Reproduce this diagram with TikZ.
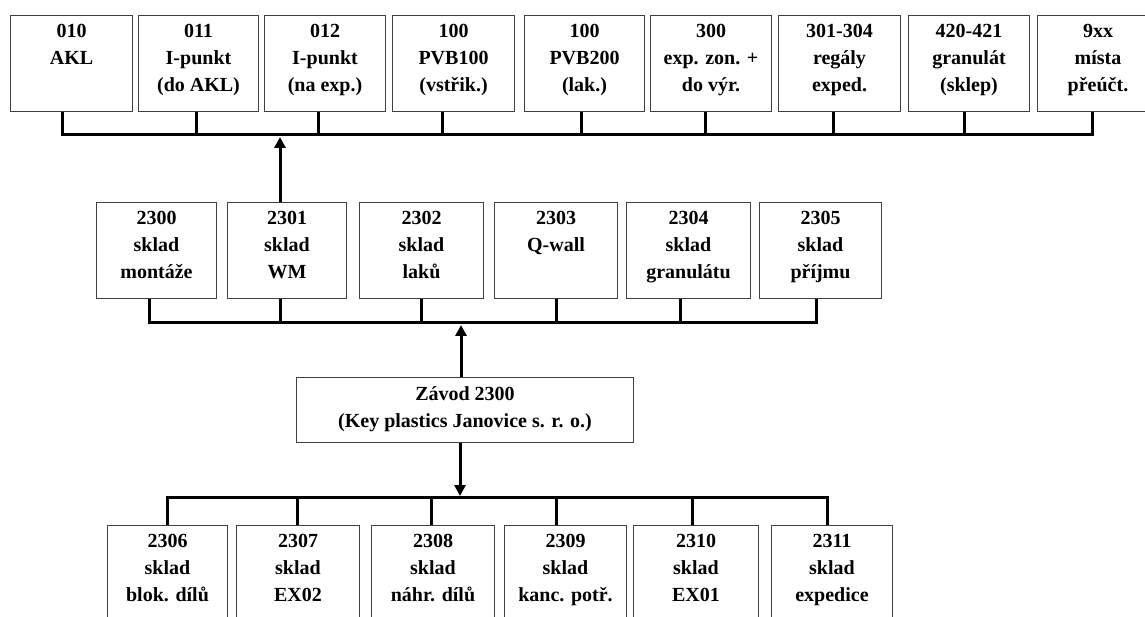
\documentclass[tikz,border=0pt]{standalone}
\usepackage{fontspec}
\setmainfont{Liberation Serif}
\usetikzlibrary{arrows.meta}

\tikzset{
  box/.style={draw=black!75, line width=1pt, rectangle, inner sep=0pt, fill=white},
  lbl/.style={align=center, anchor=north, inner sep=0pt,
    font=\fontsize{20}{27}\selectfont\bfseries},
  wire/.style={line width=3pt, black},
  uparrow/.style={wire, -{Triangle[width=11pt,length=11pt]}},
}

% box with a fixed frame and its text hanging from the top edge
\newcommand\orgbox[6]{%
  \node[box, minimum width=#4pt, minimum height=#5pt, anchor=north west] (#1) at (#2,#3) {};
  \node[lbl] (#1-t) at ([yshift=-4pt]#1.north) {\rule{0pt}{18pt}#6};
}

\begin{document}
\begin{tikzpicture}[x=1pt, y=-1pt]
\clip (0,0) rectangle (1145,617);
\fill[white] (0,0) rectangle (1145,617);

% ---- storage locations (top row)
\orgbox{t1}{10}{15}{122}{96}{010\\AKL}
\orgbox{t2}{138}{15}{120}{96}{011\\I-punkt\\(do AKL)}
\orgbox{t3}{264}{15}{121}{96}{012\\I-punkt\\(na exp.)}
\orgbox{t4}{392}{15}{122}{96}{100\\PVB100\\(vstřik.)}
\orgbox{t5}{524}{15}{120}{96}{100\\PVB200\\(lak.)}
\orgbox{t6}{650}{15}{121}{96}{300\\exp. zon. +\\do výr.}
\orgbox{t7}{778}{15}{122}{96}{301-304\\regály\\exped.}
\orgbox{t8}{908}{15}{121}{96}{420-421\\granulát\\(sklep)}
\orgbox{t9}{1037}{15}{121}{96}{9xx\\místa\\přeúčt.}

% ---- warehouses (middle row)
\orgbox{m1}{96}{202}{120}{96}{2300\\sklad\\montáže}
\orgbox{m2}{227}{202}{119}{96}{2301\\sklad\\WM}
\orgbox{m3}{359}{202}{124}{96}{2302\\sklad\\laků}
\orgbox{m4}{494}{202}{123}{96}{2303\\Q-wall}
\orgbox{m5}{626}{202}{124}{96}{2304\\sklad\\granulátu}
\orgbox{m6}{759}{202}{122}{96}{2305\\sklad\\příjmu}

% ---- plant
\node[box, minimum width=337pt, minimum height=65pt, anchor=north west] (plant) at (296,377) {};
\node[lbl] (plant-t) at ([yshift=-5.5pt]plant.north) {\rule{0pt}{18pt}Závod 2300\\(Key plastics Janovice s. r. o.)};

% ---- warehouses (bottom row)
\orgbox{b1}{107}{525}{120}{110}{2306\\sklad\\blok. dílů}
\orgbox{b2}{236}{525}{123}{110}{2307\\sklad\\EX02}
\orgbox{b3}{371}{525}{123}{110}{2308\\sklad\\náhr. dílů}
\orgbox{b4}{504}{525}{122}{110}{2309\\sklad\\kanc. potř.}
\orgbox{b5}{633}{525}{125}{110}{2310\\sklad\\EX01}
\orgbox{b6}{771}{525}{121}{110}{2311\\sklad\\expedice}

% ---- bus junction points
\coordinate (ts1) at (62,135);   \coordinate (ts2) at (196,135);
\coordinate (ts3) at (318,135);  \coordinate (ts4) at (442,135);
\coordinate (ts5) at (581,135);  \coordinate (ts6) at (705,135);
\coordinate (ts7) at (833,135);  \coordinate (ts8) at (964,135);
\coordinate (ts9) at (1092,135); \coordinate (ta) at (280,137);

\coordinate (ms1) at (149,323);  \coordinate (ms2) at (280,323);
\coordinate (ms3) at (421,323);  \coordinate (ms4) at (556,323);
\coordinate (ms5) at (680,323);  \coordinate (ms6) at (816,323);
\coordinate (ma) at (461,325);

\coordinate (bs1) at (167,497);  \coordinate (bs2) at (297,497);
\coordinate (bs3) at (431,497);  \coordinate (bs4) at (556,497);
\coordinate (bs5) at (692,497);  \coordinate (bs6) at (827,497);
\coordinate (ba) at (460,496);

% ---- top bus
\draw[wire] (t1.south -| ts1) -- (ts1) -- (ts9) -- (t9.south -| ts9);
\foreach \i in {2,...,8} \draw[wire] (t\i.south -| ts\i) -- (ts\i);
\draw[uparrow] (m2.north -| ta) -- (ta);

% ---- middle bus
\draw[wire] (m1.south -| ms1) -- (ms1) -- (ms6) -- (m6.south -| ms6);
\foreach \i in {2,...,5} \draw[wire] (m\i.south -| ms\i) -- (ms\i);
\draw[uparrow] (plant.north -| ma) -- (ma);

% ---- bottom bus
\draw[uparrow] (plant.south -| ba) -- (ba);
\draw[wire] (b1.north -| bs1) -- (bs1) -- (bs6) -- (b6.north -| bs6);
\foreach \i in {2,...,5} \draw[wire] (b\i.north -| bs\i) -- (bs\i);
\end{tikzpicture}
\end{document}
